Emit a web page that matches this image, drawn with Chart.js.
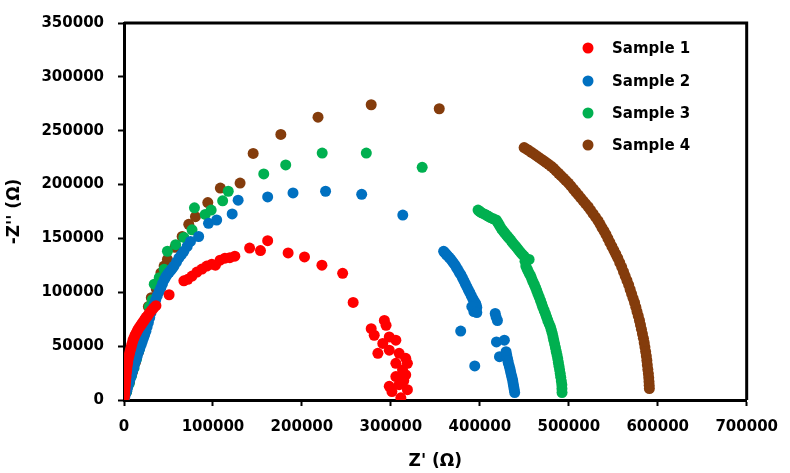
<!DOCTYPE html>
<html>
<head>
<meta charset="utf-8">
<script src="https://cdn.jsdelivr.net/npm/chart.js@4/dist/chart.umd.min.js"></script>
<style>
html,body{margin:0;padding:0;background:#fff;}
#wrap{width:790px;height:473px;position:relative;}
</style>
</head>
<body>
<div id="wrap"><canvas id="c" width="790" height="473"></canvas></div>
<script>
const seriesNames = ["Sample 1", "Sample 2", "Sample 3", "Sample 4"];
const seriesColors = ["#FF0000", "#0070C0", "#00B050", "#843C0C"];
const xTickValues = [0, 100000, 200000, 300000, 400000, 500000, 600000, 700000];
const yTickValues = [0, 50000, 100000, 150000, 200000, 250000, 300000, 350000];

const s1x = [200,500,800,1000,1300,1600,1900,2300,2700,3100,3500,4100,4700,5500,6300,7100,8000,9000,10000,11200,12400,13800,15200,16600,18000,19500,21100,22600,24100,25300,26600,28600,30700,33300,35900,
  50700,67300,71700,76500,82000,87600,93100,98700,102800,108000,113500,119000,124600,141200,153400,161500,184500,202900,222500,245800,257600,
  277900,292700,294600,281300,290900,285400,298200,305600,298200,309300,316700,318600,305600,313100,316700,305600,298200,309300,318600,311200,301200,314500];
const s1y = [2300,4600,6900,9600,12400,15100,17900,21500,25200,28400,31600,34800,38100,40800,43600,46300,49100,52200,55300,57700,60100,62400,64700,66500,68300,70100,72000,73800,75700,77000,78400,80700,83000,85300,87600,
  97700,110600,112000,115100,118800,121600,124300,126100,125200,129800,131700,132100,133500,141100,138700,147900,136500,132800,125200,117600,90600,
  66200,73900,69300,60100,52500,43300,58500,55500,46300,43300,38700,34100,34100,28000,23400,21800,12700,14200,9600,2000,7800,17900];

const s2x = [0,900,1900,3000,4100,5200,6300,7400,8500,9600,10800,12100,13500,14900,16300,17700,19100,20400,21800,23200,24600,26000,27400,28900,30400,32200,34000,35700,37400,39400,41500,43300,45100,46900,48800,50800,52900,54500,56200,59000,61700,64500,67300,71000,74700,83900,95000,104200,121600,128300,161500,190000,226600,267200,313400,
  359300,360700,362200,363800,365500,367200,368900,370500,372200,373800,375500,377100,378800,380500,382200,383800,385500,387100,388800,390400,392100,393700,395400,396000,396600,391000,393300,396600,378500,394300,
  417300,418300,419800,418700,427600,422100,429500,430200,430900,431500,432000,433000,433900,434600,435400,436200,437000,437500,438100,438700,439200];
const s2y = [0,3000,6000,8700,11500,14700,17900,20600,23400,26600,29800,33500,37200,40800,44500,47700,50900,54100,57300,60500,63800,67900,72000,76600,81200,85200,89200,93000,96800,100600,104400,108000,111500,114100,116700,118600,120600,122400,124300,128100,131900,135000,138100,142600,147200,151800,164000,167100,172700,185500,188500,192200,193800,191000,171700,
  138000,136700,135300,133900,132500,130700,128900,127000,125200,122900,120600,118300,116100,113300,110600,107800,105100,102300,99600,96800,94000,91700,89400,87600,85800,86700,82100,81200,64000,31600,
  80300,77000,73800,53900,55500,40200,44800,41900,39000,36700,34400,31700,28900,26200,23400,20700,17900,15200,12400,9700,6900];

const s3x = [200,3000,5800,8500,11300,14100,16900,19600,22400,25200,28500,31800,34000,39600,45100,48800,58100,67300,76500,79200,91300,98000,110900,117200,157100,181800,222800,272400,335200,
  398000,400000,402100,404700,407300,409700,412100,415200,418400,419700,421000,422500,424000,425800,427600,429500,431300,433100,434900,436800,438700,440700,442600,444400,446200,448000,449800,455400,
  450800,451700,453000,454200,455700,457200,458500,459800,461300,462700,464000,465300,466800,468300,469600,470800,472300,473800,475100,476400,477900,479400,480400,481400,482300,483100,484100,485000,485900,486800,487600,488300,489000,489700,490400,491000,491600,492200,492300,492400];
const s3y = [500,7800,15100,22500,29800,38100,46300,54600,62800,72000,86700,93100,107500,113600,121300,138100,144200,150900,158000,178400,172300,176300,184900,193800,209900,218200,229200,229200,216000,
  176300,175000,173800,172700,171700,170500,169300,168200,167100,165400,163700,161500,159400,157400,155500,153600,151800,150000,148200,146200,144200,142300,140400,138400,136500,135000,133500,130500,
  128800,124300,122000,119700,117400,115100,112300,109600,107000,104400,101500,98600,95400,92200,89200,86200,83100,80000,76900,73800,70700,67700,64800,61900,58700,55500,52000,48600,45100,41700,38300,34900,31400,28000,24500,21100,17600,14200,10500,6900];

const s4x = [200,3000,6300,9600,13000,16300,19300,21800,24800,27400,30700,36300,41500,45100,48800,57300,65400,72800,80300,94200,108300,130500,145200,176300,218100,277900,354400,
  449800,452500,455300,458000,460800,463600,466400,469100,471900,474600,477400,480200,483000,485700,488500,491200,494000,496800,499600,502300,505100,507900,510700,513400,516200,519000,521800,524500,527300,530100,532900,535100,537300,539600,541800,544000,546200,548500,550700,552900,555100,557300,559500,561500,563400,565400,567300,569000,570600,572300,574000,575400,576700,578100,579500,580600,581700,582800,583900,584800,585600,586400,587200,587800,588300,588900,589500,589900,590200,590400,590600];
const s4y = [500,7800,17000,26200,35300,44500,53700,64700,75700,86700,95000,103200,117900,124300,130500,141700,151800,163100,170200,183300,196800,201400,228900,246600,262600,274100,270400,
  234400,233000,231600,230000,228400,226800,225200,223600,222000,220400,218800,217000,215100,212800,210500,208300,206000,203700,201400,198700,195900,193100,190400,187600,184900,182100,179400,176200,173000,169700,166500,163300,160100,156900,153700,150000,146300,142600,139000,135300,131700,127500,123400,119200,115100,111000,106900,102700,98600,94400,90300,86200,82100,78000,73800,69700,65600,61400,57300,53200,49100,45000,40800,36700,32600,28400,24300,20600,17000,13800,10600];

const allX = [s1x, s2x, s3x, s4x];
const allY = [s1y, s2y, s3y, s4y];

const FONT = "'DejaVu Sans', sans-serif";

const datasets = seriesNames.map((name, i) => ({
  label: name,
  data: allX[i].map((x, k) => ({x: x, y: allY[i][k]})),
  backgroundColor: seriesColors[i],
  borderColor: seriesColors[i],
  pointRadius: 5.5,
  pointBorderWidth: 0,
  pointHoverRadius: 5.5,
  showLine: false,
  order: i
}));

const framePlugin = {
  id: 'frame',
  afterDatasetsDraw(chart) {
    const {ctx, chartArea: a} = chart;
    ctx.save();
    ctx.strokeStyle = '#000';
    ctx.lineWidth = 3;
    ctx.beginPath();
    ctx.moveTo(a.left, a.top);
    ctx.lineTo(a.right, a.top);
    ctx.lineTo(a.right, a.bottom);
    ctx.stroke();
    ctx.restore();
  },
  afterDraw(chart) {
    const {ctx} = chart;
    ctx.save();
    ctx.font = "bold 15px " + FONT;
    ctx.textBaseline = 'middle';
    ctx.textAlign = 'left';
    const ys = [48, 81, 113, 145];
    chart.data.datasets.forEach((ds, i) => {
      ctx.fillStyle = ds.backgroundColor;
      ctx.beginPath();
      ctx.arc(588, ys[i], 5.5, 0, Math.PI * 2);
      ctx.fill();
      ctx.fillStyle = '#000';
      ctx.fillText(ds.label, 612, ys[i] + 1);
    });
    ctx.restore();
  }
};

new Chart(document.getElementById('c'), {
  type: 'scatter',
  data: {datasets},
  options: {
    responsive: false,
    animation: false,
    events: [],
    layout: {padding: {top: 19, right: 35, left: 0, bottom: 0}},
    plugins: {legend: {display: false}, tooltip: {enabled: false}},
    scales: {
      x: {
        type: 'linear', min: 0, max: 700000,
        afterBuildTicks(s) { s.ticks = xTickValues.map(v => ({value: v})); },
        afterFit(s) { s.height = 73; },
        border: {display: true, color: '#000', width: 3},
        grid: {drawOnChartArea: false, drawTicks: true, tickLength: 6, tickWidth: 2, tickColor: '#000'},
        ticks: {color: '#000', font: {family: FONT, size: 15, weight: 'bold'}, padding: 12, maxRotation: 0, autoSkip: false, callback: v => String(v)},
        title: {display: true, text: "Z' (Ω)", color: '#000', font: {family: FONT, size: 17, weight: 'bold'}, padding: {top: 0, bottom: 1}}
      },
      y: {
        type: 'linear', min: 0, max: 350000,
        afterBuildTicks(s) { s.ticks = yTickValues.map(v => ({value: v})); },
        afterFit(s) { s.width = 124; },
        border: {display: true, color: '#000', width: 3},
        grid: {drawOnChartArea: false, drawTicks: true, tickLength: 6, tickWidth: 2, tickColor: '#000'},
        ticks: {color: '#000', font: {family: FONT, size: 15, weight: 'bold'}, padding: 14, autoSkip: false, callback: v => String(v)},
        title: {display: true, text: "-Z'' (Ω)", color: '#000', font: {family: FONT, size: 17, weight: 'bold'}, padding: {top: 4, bottom: 0}}
      }
    }
  },
  plugins: [framePlugin]
});
</script>
</body>
</html>
